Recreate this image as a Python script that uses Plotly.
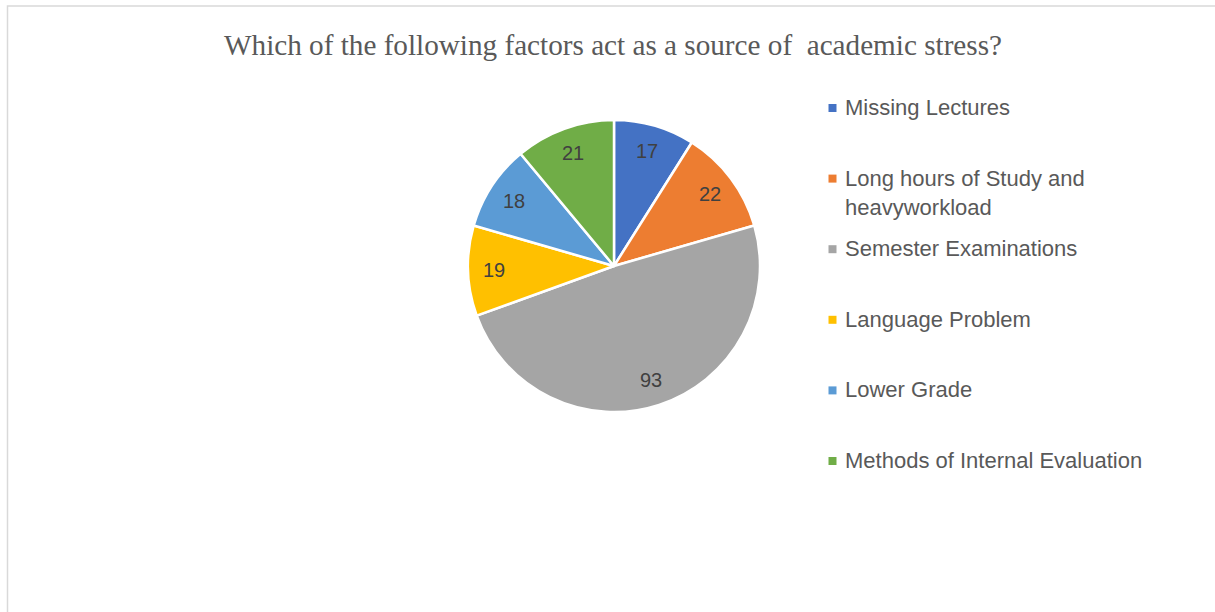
import numpy as np
import plotly.graph_objects as go

categories = ["Missing Lectures", "Long hours of Study and<br>heavyworkload",
              "Semester Examinations", "Language Problem", "Lower Grade",
              "Methods of Internal Evaluation"]
values = [17, 22, 93, 19, 18, 21]
colors = ["#4472C4", "#ED7D31", "#A5A5A5", "#FFC000", "#5B9BD5", "#70AD47"]
title = "Which of the following factors act as a source of  academic stress?"

W, H = 1215, 612
cx, cy, r = 614, 266, 146

fig = go.Figure()
fig.add_trace(go.Pie(
    labels=categories, values=values, sort=False, direction="clockwise",
    rotation=0, marker=dict(colors=colors, line=dict(color="white", width=2.5)),
    textinfo="none",
    domain=dict(x=[(cx - r) / W, (cx + r) / W], y=[1 - (cy + r) / H, 1 - (cy - r) / H]),
    showlegend=False, hoverinfo="label+value",
))

annotations = []
# data labels along each slice bisector (Excel "best fit" style), derived from values
vals = np.array(values, dtype=float)
mids = (np.cumsum(vals) - vals / 2) / vals.sum() * 2 * np.pi
d = 0.82 * r
for v, a in zip(values, mids):
    annotations.append(dict(text=str(v), xref="paper", yref="paper",
                            x=(cx + d * np.sin(a)) / W, y=1 - (cy - d * np.cos(a)) / H,
                            xanchor="center", yanchor="middle", showarrow=False,
                            font=dict(family="Liberation Sans", size=20, color="#404040")))

# legend drawn as annotations + squares
leg_y0, leg_dy = 108, 70.6
shapes = [dict(type="rect", xref="paper", yref="paper", x0=7.5 / W, x1=1.2,
               y0=-0.2, y1=1 - 6 / H, line=dict(color="#D9D9D9", width=1.5),
               fillcolor="rgba(0,0,0,0)", layer="below")]
for i, (lab, col) in enumerate(zip(categories, colors)):
    y = leg_y0 + i * leg_dy
    shapes.append(dict(type="rect", xref="paper", yref="paper",
                       x0=828.5 / W, x1=836.5 / W, y0=1 - (y + 4) / H, y1=1 - (y - 4) / H,
                       fillcolor=col, line=dict(width=0)))
    annotations.append(dict(text=lab, xref="paper", yref="paper", x=843 / W,
                            y=1 - (y - 15) / H, xanchor="left", yanchor="top",
                            align="left", showarrow=False,
                            font=dict(family="Liberation Sans", size=22, color="#595959")))

fig.update_layout(
    width=W, height=H, margin=dict(l=0, r=0, t=0, b=0),
    paper_bgcolor="white", plot_bgcolor="white",
    title=dict(text=title, x=613 / W, xanchor="center", y=1 - 45 / H, yanchor="middle",
               font=dict(family="Liberation Serif", size=29.2, color="#595959")),
    shapes=shapes, annotations=annotations,
)
fig.write_html("out.html", config={"displayModeBar": False},
               post_script="document.body.style.margin='0';")
